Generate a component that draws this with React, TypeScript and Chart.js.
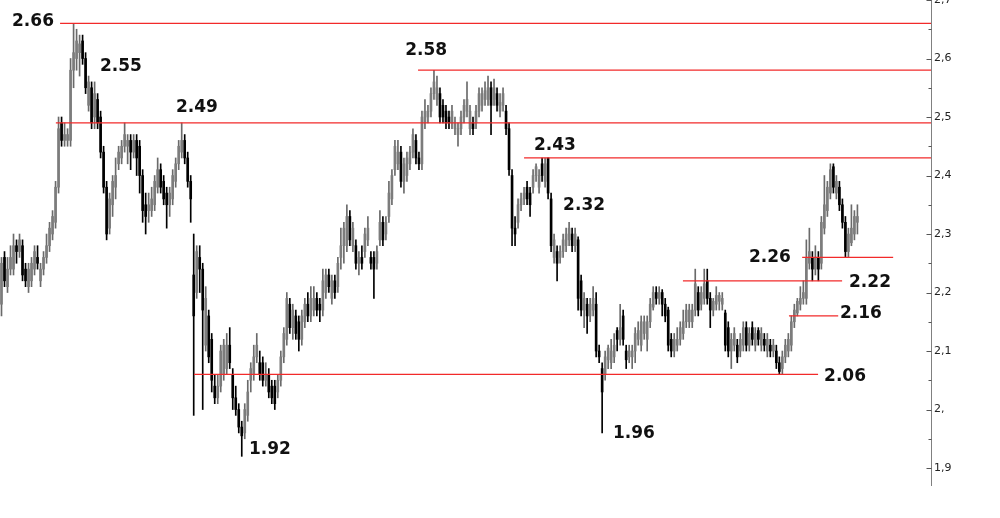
import React, { useEffect, useRef } from 'react';
import { Chart, registerables } from 'chart.js';

Chart.register(...registerables);

// ---- candle data (one entry per session) ----
const opens = [
  2.18, 2.26, 2.21, 2.24, 2.24, 2.28, 2.27, 2.28, 2.24, 2.21,
  2.22, 2.24, 2.26, 2.22, 2.24, 2.26, 2.28, 2.30, 2.32, 2.38,
  2.49, 2.46, 2.46, 2.46, 2.58, 2.60, 2.61, 2.63, 2.60, 2.52,
  2.55, 2.50, 2.53, 2.50, 2.44, 2.38, 2.31, 2.35, 2.38, 2.42,
  2.43, 2.45, 2.45, 2.46, 2.44, 2.46, 2.45, 2.40, 2.35, 2.34,
  2.34, 2.35, 2.38, 2.41, 2.39, 2.37, 2.35, 2.36, 2.39, 2.42,
  2.44, 2.46, 2.43, 2.39, 2.23, 2.20, 2.26, 2.24, 2.11, 2.16,
  2.12, 2.04, 2.02, 2.04, 2.06, 2.07, 2.11, 2.06, 2.02, 2.00,
  1.97, 1.96, 1.99, 2.05, 2.06, 2.09, 2.08, 2.08, 2.05, 2.06,
  2.04, 2.04, 2.03, 2.05, 2.09, 2.12, 2.18, 2.14, 2.16, 2.15,
  2.12, 2.15, 2.18, 2.16, 2.17, 2.19, 2.18, 2.17, 2.20, 2.23,
  2.19, 2.22, 2.21, 2.26, 2.28, 2.28, 2.33, 2.28, 2.28, 2.25,
  2.26, 2.27, 2.29, 2.26, 2.26, 2.25, 2.29, 2.32, 2.30, 2.33,
  2.36, 2.41, 2.42, 2.44, 2.39, 2.40, 2.42, 2.44, 2.46, 2.43,
  2.42, 2.49, 2.50, 2.51, 2.54, 2.53, 2.54, 2.52, 2.51, 2.50,
  2.49, 2.48, 2.47, 2.48, 2.50, 2.51, 2.48, 2.49, 2.49, 2.51,
  2.52, 2.53, 2.53, 2.55, 2.53, 2.54, 2.51, 2.52, 2.51, 2.48,
  2.40, 2.31, 2.32, 2.35, 2.36, 2.38, 2.37, 2.38, 2.40, 2.38,
  2.42, 2.39, 2.43, 2.36, 2.26, 2.27, 2.26, 2.27, 2.28, 2.29,
  2.30, 2.28, 2.29, 2.22, 2.17, 2.18, 2.16, 2.17, 2.18, 2.10,
  2.07, 2.06, 2.085, 2.08, 2.09, 2.135, 2.12, 2.16, 2.10, 2.09,
  2.09, 2.10, 2.12, 2.11, 2.13, 2.12, 2.15, 2.175, 2.20, 2.19,
  2.20, 2.18, 2.17, 2.12, 2.10, 2.11, 2.12, 2.13, 2.15, 2.15,
  2.15, 2.17, 2.20, 2.18, 2.19, 2.22, 2.19, 2.17, 2.18, 2.185,
  2.18, 2.165, 2.14, 2.10, 2.11, 2.11, 2.10, 2.11, 2.14, 2.11,
  2.14, 2.11, 2.135, 2.11, 2.12, 2.10, 2.11, 2.10, 2.10, 2.08,
  2.07, 2.09, 2.10, 2.11, 2.15, 2.165, 2.18, 2.19, 2.19, 2.25,
  2.26, 2.24, 2.26, 2.25, 2.31, 2.34, 2.37, 2.415, 2.37, 2.38,
  2.35, 2.32, 2.27, 2.285, 2.30, 2.32,
];

const highs = [
  2.26, 2.27, 2.26, 2.28, 2.30, 2.29, 2.30, 2.29, 2.25, 2.25,
  2.26, 2.28, 2.28, 2.25, 2.27, 2.30, 2.32, 2.34, 2.39, 2.50,
  2.50, 2.49, 2.48, 2.60, 2.66, 2.65, 2.64, 2.64, 2.61, 2.57,
  2.56, 2.56, 2.54, 2.51, 2.45, 2.39, 2.37, 2.40, 2.43, 2.45,
  2.46, 2.49, 2.47, 2.47, 2.47, 2.47, 2.46, 2.41, 2.37, 2.37,
  2.38, 2.40, 2.43, 2.42, 2.40, 2.38, 2.38, 2.41, 2.43, 2.46,
  2.49, 2.47, 2.44, 2.40, 2.30, 2.28, 2.28, 2.25, 2.21, 2.17,
  2.13, 2.06, 2.06, 2.11, 2.12, 2.13, 2.14, 2.07, 2.04, 2.01,
  1.98, 2.01, 2.05, 2.08, 2.11, 2.13, 2.10, 2.09, 2.08, 2.07,
  2.05, 2.05, 2.06, 2.10, 2.14, 2.20, 2.19, 2.18, 2.17, 2.16,
  2.17, 2.19, 2.20, 2.21, 2.21, 2.20, 2.19, 2.24, 2.24, 2.24,
  2.23, 2.23, 2.26, 2.31, 2.32, 2.35, 2.34, 2.32, 2.29, 2.27,
  2.28, 2.31, 2.33, 2.27, 2.27, 2.28, 2.34, 2.33, 2.33, 2.39,
  2.41, 2.46, 2.46, 2.45, 2.43, 2.44, 2.45, 2.48, 2.47, 2.44,
  2.51, 2.53, 2.52, 2.55, 2.58, 2.57, 2.55, 2.53, 2.52, 2.51,
  2.52, 2.50, 2.49, 2.51, 2.53, 2.56, 2.52, 2.50, 2.52, 2.55,
  2.55, 2.56, 2.57, 2.56, 2.565, 2.55, 2.54, 2.55, 2.52, 2.49,
  2.41, 2.33, 2.36, 2.37, 2.38, 2.39, 2.38, 2.41, 2.42, 2.41,
  2.43, 2.43, 2.43, 2.37, 2.30, 2.28, 2.28, 2.30, 2.31, 2.32,
  2.31, 2.31, 2.295, 2.23, 2.20, 2.19, 2.19, 2.21, 2.20, 2.11,
  2.08, 2.10, 2.11, 2.12, 2.13, 2.14, 2.18, 2.17, 2.11, 2.11,
  2.11, 2.14, 2.15, 2.16, 2.16, 2.16, 2.19, 2.21, 2.21, 2.21,
  2.205, 2.19, 2.175, 2.13, 2.13, 2.14, 2.15, 2.17, 2.18, 2.18,
  2.18, 2.24, 2.21, 2.21, 2.24, 2.24, 2.20, 2.19, 2.21, 2.20,
  2.20, 2.17, 2.15, 2.13, 2.14, 2.12, 2.13, 2.15, 2.15, 2.14,
  2.15, 2.14, 2.14, 2.14, 2.13, 2.13, 2.12, 2.12, 2.11, 2.09,
  2.10, 2.12, 2.13, 2.16, 2.18, 2.19, 2.21, 2.22, 2.29, 2.31,
  2.27, 2.28, 2.27, 2.33, 2.40, 2.39, 2.42, 2.42, 2.40, 2.39,
  2.36, 2.33, 2.31, 2.35, 2.34, 2.35,
];

const lows = [
  2.16, 2.21, 2.20, 2.23, 2.23, 2.25, 2.26, 2.22, 2.21, 2.20,
  2.21, 2.23, 2.24, 2.21, 2.23, 2.25, 2.27, 2.29, 2.31, 2.37,
  2.45, 2.45, 2.45, 2.45, 2.55, 2.58, 2.57, 2.59, 2.54, 2.51,
  2.48, 2.48, 2.48, 2.43, 2.37, 2.29, 2.30, 2.33, 2.36, 2.41,
  2.42, 2.44, 2.42, 2.41, 2.43, 2.40, 2.37, 2.32, 2.30, 2.32,
  2.33, 2.34, 2.37, 2.37, 2.35, 2.31, 2.33, 2.35, 2.38, 2.41,
  2.43, 2.42, 2.38, 2.32, 1.99, 2.19, 2.20, 2.00, 2.10, 2.08,
  2.03, 2.01, 2.01, 2.03, 2.05, 2.06, 2.07, 2.00, 1.99, 1.96,
  1.92, 1.95, 1.98, 2.03, 2.05, 2.08, 2.05, 2.04, 2.04, 2.02,
  2.01, 2.00, 2.02, 2.04, 2.08, 2.11, 2.13, 2.12, 2.12, 2.10,
  2.11, 2.14, 2.15, 2.15, 2.16, 2.16, 2.15, 2.16, 2.19, 2.20,
  2.18, 2.19, 2.20, 2.24, 2.25, 2.27, 2.28, 2.27, 2.24, 2.23,
  2.24, 2.26, 2.28, 2.24, 2.19, 2.24, 2.28, 2.28, 2.29, 2.32,
  2.35, 2.40, 2.41, 2.38, 2.37, 2.39, 2.41, 2.43, 2.42, 2.41,
  2.41, 2.48, 2.49, 2.50, 2.53, 2.52, 2.49, 2.49, 2.48, 2.48,
  2.48, 2.47, 2.45, 2.47, 2.49, 2.50, 2.47, 2.47, 2.48, 2.50,
  2.51, 2.52, 2.52, 2.47, 2.52, 2.51, 2.50, 2.51, 2.47, 2.40,
  2.28, 2.28, 2.31, 2.34, 2.35, 2.35, 2.33, 2.37, 2.39, 2.37,
  2.39, 2.38, 2.36, 2.27, 2.25, 2.22, 2.25, 2.26, 2.27, 2.28,
  2.27, 2.27, 2.17, 2.16, 2.14, 2.13, 2.15, 2.16, 2.09, 2.08,
  1.96, 2.05, 2.07, 2.07, 2.08, 2.10, 2.11, 2.11, 2.07, 2.08,
  2.07, 2.08, 2.11, 2.10, 2.12, 2.10, 2.14, 2.17, 2.18, 2.18,
  2.16, 2.15, 2.10, 2.09, 2.09, 2.10, 2.11, 2.12, 2.14, 2.14,
  2.14, 2.16, 2.16, 2.17, 2.18, 2.18, 2.14, 2.16, 2.17, 2.17,
  2.17, 2.10, 2.09, 2.07, 2.10, 2.08, 2.09, 2.10, 2.10, 2.10,
  2.11, 2.10, 2.11, 2.10, 2.10, 2.09, 2.09, 2.09, 2.07, 2.06,
  2.06, 2.08, 2.09, 2.10, 2.14, 2.16, 2.17, 2.18, 2.18, 2.24,
  2.22, 2.23, 2.22, 2.24, 2.30, 2.33, 2.36, 2.37, 2.36, 2.34,
  2.31, 2.26, 2.26, 2.28, 2.29, 2.30,
];

const closes = [
  2.25, 2.22, 2.24, 2.26, 2.28, 2.27, 2.29, 2.23, 2.22, 2.24,
  2.25, 2.27, 2.25, 2.24, 2.26, 2.28, 2.31, 2.33, 2.38, 2.48,
  2.46, 2.47, 2.47, 2.58, 2.61, 2.63, 2.625, 2.60, 2.55, 2.56,
  2.49, 2.54, 2.49, 2.44, 2.38, 2.30, 2.36, 2.39, 2.40, 2.44,
  2.45, 2.47, 2.46, 2.44, 2.46, 2.43, 2.40, 2.34, 2.33, 2.35,
  2.36, 2.39, 2.41, 2.38, 2.36, 2.35, 2.37, 2.40, 2.42, 2.45,
  2.46, 2.43, 2.39, 2.36, 2.16, 2.27, 2.24, 2.17, 2.19, 2.09,
  2.05, 2.02, 2.04, 2.10, 2.11, 2.11, 2.08, 2.02, 2.00, 1.97,
  1.955, 2.00, 2.03, 2.07, 2.09, 2.11, 2.06, 2.05, 2.06, 2.03,
  2.02, 2.01, 2.05, 2.09, 2.13, 2.19, 2.14, 2.17, 2.13, 2.12,
  2.16, 2.18, 2.16, 2.19, 2.19, 2.17, 2.17, 2.22, 2.23, 2.21,
  2.22, 2.20, 2.25, 2.28, 2.31, 2.33, 2.29, 2.31, 2.25, 2.26,
  2.25, 2.30, 2.31, 2.25, 2.24, 2.27, 2.32, 2.29, 2.32, 2.37,
  2.40, 2.45, 2.44, 2.39, 2.42, 2.43, 2.44, 2.47, 2.43, 2.42,
  2.50, 2.51, 2.51, 2.54, 2.56, 2.55, 2.50, 2.50, 2.49, 2.49,
  2.51, 2.49, 2.48, 2.50, 2.52, 2.53, 2.51, 2.48, 2.51, 2.54,
  2.54, 2.545, 2.55, 2.52, 2.55, 2.52, 2.525, 2.54, 2.48, 2.41,
  2.31, 2.30, 2.35, 2.36, 2.37, 2.36, 2.35, 2.40, 2.415, 2.40,
  2.40, 2.42, 2.37, 2.28, 2.29, 2.25, 2.27, 2.29, 2.30, 2.31,
  2.28, 2.30, 2.19, 2.17, 2.19, 2.16, 2.18, 2.19, 2.10, 2.09,
  2.03, 2.09, 2.105, 2.10, 2.11, 2.12, 2.14, 2.12, 2.085, 2.10,
  2.10, 2.13, 2.135, 2.15, 2.15, 2.15, 2.18, 2.20, 2.19, 2.20,
  2.18, 2.16, 2.11, 2.10, 2.12, 2.12, 2.14, 2.15, 2.17, 2.17,
  2.17, 2.215, 2.17, 2.20, 2.215, 2.19, 2.17, 2.185, 2.195, 2.195,
  2.19, 2.11, 2.10, 2.12, 2.13, 2.09, 2.12, 2.14, 2.11, 2.13,
  2.12, 2.13, 2.12, 2.13, 2.11, 2.12, 2.10, 2.11, 2.08, 2.065,
  2.09, 2.11, 2.12, 2.15, 2.17, 2.185, 2.19, 2.20, 2.26, 2.27,
  2.24, 2.26, 2.24, 2.32, 2.35, 2.38, 2.41, 2.38, 2.39, 2.35,
  2.32, 2.27, 2.30, 2.31, 2.33, 2.33,
];

// category slots along the time axis (the right part is empty space before the price scale)
const SLOT_COUNT = 310;
const categories = Array.from({ length: SLOT_COUNT }, (_, i) => `${i + 1}`);

// price axis
const Y_MIN = 1.871;
const Y_MAX = 2.7;
const yTickValues = [2.7, 2.6, 2.5, 2.4, 2.3, 2.2, 2.1, 2.0, 1.9];
const yTickLabels = ['2,7', '2,6', '2,5', '2,4', '2,3', '2,2', '2,1', '2,', '1,9'];

// horizontal support / resistance levels (start / end in candle-slot units; null = to the price scale)
const levelValues = [2.66, 2.58, 2.49, 2.43, 2.26, 2.22, 2.16, 2.06];
const levelFrom = [19.5, 138.7, 18.1, 174.0, 266.6, 226.9, 262.2, 64.1];
const levelTo: (number | null)[] = [null, null, null, null, 296.9, 279.9, 278.6, 271.9];

// annotation texts anchored at (slot, price)
const noteTexts = ['2.66', '2.55', '2.49', '2.58', '2.43', '2.32', '2.26', '2.22', '2.16', '2.06', '1.96', '1.92'];
const noteSlot = [3.5, 32.8, 58.1, 134.4, 177.3, 187.0, 248.9, 282.2, 279.2, 273.9, 203.6, 82.4];
const notePrice = [2.663, 2.5855, 2.516, 2.613, 2.452, 2.348, 2.259, 2.217, 2.164, 2.056, 1.959, 1.931];

const UP_FILL = '#7c7c7c';
const UP_WICK = '#6a6a6a';
const DOWN_COLOR = '#000000';
const FONT = '"DejaVu Sans", Verdana, sans-serif';

const overlayPlugin = {
  id: 'overlay',
  afterDatasetsDraw(chart: any) {
    const { ctx, chartArea, scales } = chart;
    const x = scales.x;
    const y = scales.y;
    ctx.save();

    // levels
    ctx.strokeStyle = '#f22a2a';
    ctx.lineWidth = 1.3;
    levelValues.forEach((v, k) => {
      const py = y.getPixelForValue(v);
      const x0 = x.getPixelForValue(levelFrom[k]);
      const to = levelTo[k];
      const x1 = to == null ? chartArea.right : x.getPixelForValue(to);
      ctx.beginPath();
      ctx.moveTo(x0, py);
      ctx.lineTo(x1, py);
      ctx.stroke();
    });

    // price-scale tick marks (inward)
    const ax = Math.round(chartArea.right) + 0.5;
    ctx.lineWidth = 1;
    ctx.strokeStyle = '#555555';
    yTickValues.forEach((v, k) => {
      const py = Math.round(y.getPixelForValue(v)) + 0.5;
      ctx.beginPath();
      ctx.moveTo(ax - 5, py);
      ctx.lineTo(ax, py);
      ctx.stroke();
      if (k < yTickValues.length - 1) {
        const mid = (v + yTickValues[k + 1]) / 2;
        const pm = Math.round(y.getPixelForValue(mid)) + 0.5;
        ctx.beginPath();
        ctx.moveTo(ax - 3, pm);
        ctx.lineTo(ax, pm);
        ctx.stroke();
      }
    });

    // notes
    ctx.font = `bold 17px ${FONT}`;
    ctx.fillStyle = '#111111';
    ctx.textAlign = 'left';
    ctx.textBaseline = 'middle';
    noteTexts.forEach((t, k) => {
      ctx.fillText(t, x.getPixelForValue(noteSlot[k]), y.getPixelForValue(notePrice[k]));
    });

    ctx.restore();
  },
};

export default function App() {
  const canvasRef = useRef<HTMLCanvasElement | null>(null);

  useEffect(() => {
    if (!canvasRef.current) return;
    const isUp = closes.map((c, i) => c >= opens[i]);
    const chart = new Chart(canvasRef.current, {
      type: 'bar',
      data: {
        labels: categories,
        datasets: [
          {
            label: 'range',
            data: lows.map((l, i) => [l, highs[i]]) as any,
            backgroundColor: isUp.map((u) => (u ? UP_WICK : DOWN_COLOR)),
            borderWidth: 0,
            barThickness: 1,
            grouped: false,
            order: 2,
          } as any,
          {
            label: 'body',
            data: opens.map((o, i) => [o, closes[i]]) as any,
            backgroundColor: isUp.map((u) => (u ? UP_FILL : DOWN_COLOR)),
            borderWidth: 0,
            barThickness: 2,
            minBarLength: 1,
            grouped: false,
            order: 1,
          } as any,
        ],
      },
      options: {
        animation: false,
        responsive: true,
        maintainAspectRatio: false,
        events: [],
        layout: { padding: { top: 0, left: 0, right: 0, bottom: 33 } },
        plugins: {
          legend: { display: false },
          tooltip: { enabled: false },
          title: { display: false },
        },
        scales: {
          x: {
            type: 'category',
            display: false,
            offset: true,
            grid: { display: false },
          },
          y: {
            type: 'linear',
            position: 'right',
            min: Y_MIN,
            max: Y_MAX,
            beginAtZero: false,
            grid: { display: false, drawTicks: false },
            border: { display: true, color: '#808080', width: 1 },
            afterBuildTicks: (scale: any) => {
              scale.ticks = yTickValues.map((v) => ({ value: v }));
            },
            afterFit: (scale: any) => {
              scale.width = 69;
              scale.paddingTop = 0;
              scale.paddingBottom = 0;
            },
            ticks: {
              autoSkip: false,
              padding: 3,
              color: '#222222',
              font: { family: FONT, size: 11 },
              callback: (value: any) => {
                const k = yTickValues.indexOf(Number(value));
                return k >= 0 ? yTickLabels[k] : '';
              },
            },
          },
        },
      },
      plugins: [overlayPlugin],
    });
    return () => chart.destroy();
  }, []);

  return (
    <div
      style={{
        position: 'absolute',
        left: 0,
        top: 0,
        width: 1000,
        height: 518,
        background: '#ffffff',
      }}
    >
      <canvas ref={canvasRef} />
    </div>
  );
}
